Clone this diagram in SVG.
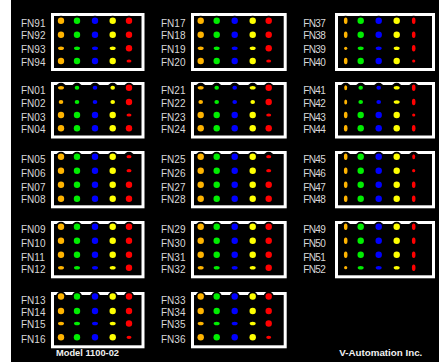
<svg xmlns="http://www.w3.org/2000/svg" xmlns:xlink="http://www.w3.org/1999/xlink" width="441" height="362" viewBox="0 0 441 362">
<style>
.box{fill:#000;stroke:#fff;stroke-width:3}
.lbl{font-family:"Liberation Sans",Arial,sans-serif;font-size:10px;fill:#d8d8d8}
.foot{font-family:"Liberation Sans",Arial,sans-serif;font-size:9.5px;font-weight:bold;fill:#f0f0f0}
.cap{fill:#000}
.o{fill:#ffb400}.g{fill:#00ee00}.b{fill:#0000ff}.y{fill:#ffff00}.r{fill:#ff0000}
</style>
<defs>
<ellipse id="F" rx="3.2" ry="3.2"/>
<ellipse id="H" rx="3" ry="1.8"/>
<ellipse id="S" rx="2.3" ry="2"/>
<ellipse id="N" rx="1.8" ry="3.2"/>
<ellipse id="n" rx="1.5" ry="2.5"/>
<ellipse id="s" rx="1.6" ry="1.6"/>
<ellipse id="R" rx="2.5" ry="1.6"/>
<circle id="C" r="5"/>
</defs>
<rect x="0" y="0" width="441" height="362" fill="#fff"/>
<rect x="11" y="0" width="428" height="362" fill="#000"/>

<!-- Box FN91-94 -->
<g id="box-fn91">
<rect class="box" x="52.5" y="14.5" width="90.5" height="55"/>
<g class="cap"><use href="#C" x="61" y="20.7"/><use href="#C" x="77" y="20.7"/><use href="#C" x="95" y="20.7"/><use href="#C" x="112.7" y="20.7"/><use href="#C" x="129" y="20.7"/></g>
<use href="#F" x="61" y="20.7" class="o"/><use href="#F" x="77" y="20.7" class="g"/><use href="#F" x="95" y="20.7" class="b"/><use href="#F" x="112.7" y="20.7" class="y"/><use href="#F" x="129" y="20.7" class="r"/>
<use href="#F" x="61" y="34.7" class="o"/><use href="#F" x="77" y="34.7" class="g"/><use href="#F" x="95" y="34.7" class="b"/><use href="#F" x="112.7" y="34.7" class="y"/><use href="#F" x="129" y="34.7" class="r"/>
<use href="#H" x="61" y="48.3" class="o"/><use href="#H" x="77" y="48.3" class="g"/><use href="#H" x="95" y="48.3" class="b"/><use href="#H" x="112.7" y="48.3" class="y"/><use href="#F" x="129" y="48.3" class="r"/>
<use href="#F" x="61" y="61" class="o"/><use href="#F" x="77" y="61" class="g"/><use href="#F" x="95" y="61" class="b"/><use href="#F" x="112.7" y="61" class="y"/><use href="#R" x="129" y="61" class="r"/>
<text class="lbl" x="21" y="26.9">FN91</text><text class="lbl" x="21" y="39.3">FN92</text><text class="lbl" x="21" y="52.9">FN93</text><text class="lbl" x="21" y="66.3">FN94</text>
</g>

<!-- Box FN17-20 -->
<g id="box-fn17">
<rect class="box" x="192.5" y="14.5" width="92.7" height="55"/>
<g class="cap"><use href="#C" x="200.7" y="20.7"/><use href="#C" x="216.7" y="20.7"/><use href="#C" x="234.7" y="20.7"/><use href="#C" x="252.7" y="20.7"/><use href="#C" x="268.7" y="20.7"/></g>
<use href="#F" x="200.7" y="20.7" class="o"/><use href="#F" x="216.7" y="20.7" class="g"/><use href="#F" x="234.7" y="20.7" class="b"/><use href="#F" x="252.7" y="20.7" class="y"/><use href="#F" x="268.7" y="20.7" class="r"/>
<use href="#F" x="200.7" y="34.7" class="o"/><use href="#F" x="216.7" y="34.7" class="g"/><use href="#F" x="234.7" y="34.7" class="b"/><use href="#F" x="252.7" y="34.7" class="y"/><use href="#F" x="268.7" y="34.7" class="r"/>
<use href="#H" x="200.7" y="48.3" class="o"/><use href="#H" x="216.7" y="48.3" class="g"/><use href="#H" x="234.7" y="48.3" class="b"/><use href="#H" x="252.7" y="48.3" class="y"/><use href="#F" x="268.7" y="48.3" class="r"/>
<use href="#F" x="200.7" y="61" class="o"/><use href="#F" x="216.7" y="61" class="g"/><use href="#F" x="234.7" y="61" class="b"/><use href="#F" x="252.7" y="61" class="y"/><use href="#R" x="268.7" y="61" class="r"/>
<text class="lbl" x="161" y="26.9">FN17</text><text class="lbl" x="161" y="39.3">FN18</text><text class="lbl" x="161" y="52.9">FN19</text><text class="lbl" x="161" y="66.3">FN20</text>
</g>

<!-- Box FN37-40 -->
<g id="box-fn37">
<rect class="box" x="336.5" y="14.5" width="97" height="55"/>
<g class="cap"><use href="#C" x="345.7" y="20.7"/><use href="#C" x="360.7" y="20.7"/><use href="#C" x="378.7" y="20.7"/><use href="#C" x="396.7" y="20.7"/><use href="#C" x="413.7" y="20.7"/></g>
<use href="#N" x="345.7" y="20.7" class="o"/><use href="#F" x="360.7" y="20.7" class="g"/><use href="#F" x="378.7" y="20.7" class="b"/><use href="#F" x="396.7" y="20.7" class="y"/><use href="#N" x="413.7" y="20.7" class="r"/>
<use href="#N" x="345.7" y="34.7" class="o"/><use href="#F" x="360.7" y="34.7" class="g"/><use href="#F" x="378.7" y="34.7" class="b"/><use href="#F" x="396.7" y="34.7" class="y"/><use href="#N" x="413.7" y="34.7" class="r"/>
<use href="#s" x="345.7" y="48.3" class="o"/><use href="#H" x="360.7" y="48.3" class="g"/><use href="#H" x="378.7" y="48.3" class="b"/><use href="#H" x="396.7" y="48.3" class="y"/><use href="#N" x="413.7" y="48.3" class="r"/>
<use href="#N" x="345.7" y="61" class="o"/><use href="#F" x="360.7" y="61" class="g"/><use href="#F" x="378.7" y="61" class="b"/><use href="#F" x="396.7" y="61" class="y"/><use href="#s" x="413.7" y="61" class="r"/>
<text class="lbl" x="303.3" y="26.9" textLength="22.4">FN37</text><text class="lbl" x="303.3" y="39.3" textLength="22.4">FN38</text><text class="lbl" x="303.3" y="52.9" textLength="22.4">FN39</text><text class="lbl" x="303.3" y="66.3" textLength="22.4">FN40</text>
</g>

<!-- Box FN01-04 -->
<g id="box-fn01">
<rect class="box" x="52.5" y="83.5" width="90.5" height="53.5"/>
<g class="cap"><use href="#C" x="61" y="87.7"/><use href="#C" x="77" y="87.7"/><use href="#C" x="95" y="87.7"/><use href="#C" x="112.7" y="87.7"/><use href="#C" x="129" y="87.7"/></g>
<use href="#H" x="61" y="87.7" class="o"/><use href="#S" x="77" y="87.7" class="g"/><use href="#S" x="95" y="87.7" class="b"/><use href="#S" x="112.7" y="87.7" class="y"/><use href="#F" x="129" y="87.7" class="r"/>
<use href="#S" x="61" y="102" class="o"/><use href="#S" x="77" y="102" class="g"/><use href="#S" x="95" y="102" class="b"/><use href="#S" x="112.7" y="102" class="y"/><use href="#F" x="129" y="102" class="r"/>
<use href="#F" x="61" y="115" class="o"/><use href="#F" x="77" y="115" class="g"/><use href="#F" x="95" y="115" class="b"/><use href="#F" x="112.7" y="115" class="y"/><use href="#R" x="129" y="115" class="r"/>
<use href="#F" x="61" y="128.3" class="o"/><use href="#F" x="77" y="128.3" class="g"/><use href="#F" x="95" y="128.3" class="b"/><use href="#F" x="112.7" y="128.3" class="y"/><use href="#F" x="129" y="128.3" class="r"/>
<text class="lbl" x="21" y="94.3">FN01</text><text class="lbl" x="21" y="106.9">FN02</text><text class="lbl" x="21" y="120.9">FN03</text><text class="lbl" x="21" y="132.6">FN04</text>
</g>

<!-- Box FN21-24 -->
<g id="box-fn21">
<rect class="box" x="192.5" y="83.5" width="92.7" height="53.5"/>
<g class="cap"><use href="#C" x="200.7" y="87.7"/><use href="#C" x="216.7" y="87.7"/><use href="#C" x="234.7" y="87.7"/><use href="#C" x="252.7" y="87.7"/><use href="#C" x="268.7" y="87.7"/></g>
<use href="#H" x="200.7" y="87.7" class="o"/><use href="#S" x="216.7" y="87.7" class="g"/><use href="#S" x="234.7" y="87.7" class="b"/><use href="#H" x="252.7" y="87.7" class="y"/><use href="#F" x="268.7" y="87.7" class="r"/>
<use href="#S" x="200.7" y="102" class="o"/><use href="#S" x="216.7" y="102" class="g"/><use href="#S" x="234.7" y="102" class="b"/><use href="#S" x="252.7" y="102" class="y"/><use href="#F" x="268.7" y="102" class="r"/>
<use href="#F" x="200.7" y="115" class="o"/><use href="#F" x="216.7" y="115" class="g"/><use href="#F" x="234.7" y="115" class="b"/><use href="#F" x="252.7" y="115" class="y"/><use href="#R" x="268.7" y="115" class="r"/>
<use href="#F" x="200.7" y="128.3" class="o"/><use href="#F" x="216.7" y="128.3" class="g"/><use href="#F" x="234.7" y="128.3" class="b"/><use href="#F" x="252.7" y="128.3" class="y"/><use href="#F" x="268.7" y="128.3" class="r"/>
<text class="lbl" x="161" y="94.3">FN21</text><text class="lbl" x="161" y="106.9">FN22</text><text class="lbl" x="161" y="120.9">FN23</text><text class="lbl" x="161" y="132.6">FN24</text>
</g>

<!-- Box FN41-44 -->
<g id="box-fn41">
<rect class="box" x="336.5" y="83.5" width="97" height="53.5"/>
<g class="cap"><use href="#C" x="345.7" y="87.7"/><use href="#C" x="360.7" y="87.7"/><use href="#C" x="378.7" y="87.7"/><use href="#C" x="396.7" y="87.7"/><use href="#C" x="413.7" y="87.7"/></g>
<use href="#n" x="345.7" y="87.7" class="o"/><use href="#S" x="360.7" y="87.7" class="g"/><use href="#S" x="378.7" y="87.7" class="b"/><use href="#H" x="396.7" y="87.7" class="y"/><use href="#N" x="413.7" y="87.7" class="r"/>
<use href="#n" x="345.7" y="102" class="o"/><use href="#S" x="360.7" y="102" class="g"/><use href="#S" x="378.7" y="102" class="b"/><use href="#H" x="396.7" y="102" class="y"/><use href="#N" x="413.7" y="102" class="r"/>
<use href="#N" x="345.7" y="115" class="o"/><use href="#F" x="360.7" y="115" class="g"/><use href="#F" x="378.7" y="115" class="b"/><use href="#F" x="396.7" y="115" class="y"/><use href="#s" x="413.7" y="115" class="r"/>
<use href="#N" x="345.7" y="128.3" class="o"/><use href="#F" x="360.7" y="128.3" class="g"/><use href="#F" x="378.7" y="128.3" class="b"/><use href="#F" x="396.7" y="128.3" class="y"/><use href="#N" x="413.7" y="128.3" class="r"/>
<text class="lbl" x="303.3" y="94.3" textLength="22.4">FN41</text><text class="lbl" x="303.3" y="106.9" textLength="22.4">FN42</text><text class="lbl" x="303.3" y="120.9" textLength="22.4">FN43</text><text class="lbl" x="303.3" y="132.6" textLength="22.4">FN44</text>
</g>

<!-- Box FN05-08 -->
<g id="box-fn05">
<rect class="box" x="52.5" y="152.5" width="90.5" height="54.3"/>
<g class="cap"><use href="#C" x="61" y="156.7"/><use href="#C" x="77" y="156.7"/><use href="#C" x="95" y="156.7"/><use href="#C" x="112.7" y="156.7"/><use href="#C" x="129" y="156.7"/></g>
<use href="#F" x="61" y="156.7" class="o"/><use href="#F" x="77" y="156.7" class="g"/><use href="#F" x="95" y="156.7" class="b"/><use href="#F" x="112.7" y="156.7" class="y"/><use href="#R" x="129" y="156.7" class="r"/>
<use href="#F" x="61" y="170.7" class="o"/><use href="#F" x="77" y="170.7" class="g"/><use href="#F" x="95" y="170.7" class="b"/><use href="#F" x="112.7" y="170.7" class="y"/><use href="#R" x="129" y="170.7" class="r"/>
<use href="#F" x="61" y="184.7" class="o"/><use href="#F" x="77" y="184.7" class="g"/><use href="#F" x="95" y="184.7" class="b"/><use href="#F" x="112.7" y="184.7" class="y"/><use href="#F" x="129" y="184.7" class="r"/>
<use href="#F" x="61" y="198.7" class="o"/><use href="#F" x="77" y="198.7" class="g"/><use href="#F" x="95" y="198.7" class="b"/><use href="#F" x="112.7" y="198.7" class="y"/><use href="#F" x="129" y="198.7" class="r"/>
<text class="lbl" x="21" y="162.9">FN05</text><text class="lbl" x="21" y="176.9">FN06</text><text class="lbl" x="21" y="190.9">FN07</text><text class="lbl" x="21" y="202.6">FN08</text>
</g>

<!-- Box FN25-28 -->
<g id="box-fn25">
<rect class="box" x="192.5" y="152.5" width="92.7" height="54.3"/>
<g class="cap"><use href="#C" x="200.7" y="156.7"/><use href="#C" x="216.7" y="156.7"/><use href="#C" x="234.7" y="156.7"/><use href="#C" x="252.7" y="156.7"/><use href="#C" x="268.7" y="156.7"/></g>
<use href="#F" x="200.7" y="156.7" class="o"/><use href="#F" x="216.7" y="156.7" class="g"/><use href="#F" x="234.7" y="156.7" class="b"/><use href="#F" x="252.7" y="156.7" class="y"/><use href="#R" x="268.7" y="156.7" class="r"/>
<use href="#F" x="200.7" y="170.7" class="o"/><use href="#F" x="216.7" y="170.7" class="g"/><use href="#F" x="234.7" y="170.7" class="b"/><use href="#F" x="252.7" y="170.7" class="y"/><use href="#R" x="268.7" y="170.7" class="r"/>
<use href="#F" x="200.7" y="184.7" class="o"/><use href="#F" x="216.7" y="184.7" class="g"/><use href="#F" x="234.7" y="184.7" class="b"/><use href="#F" x="252.7" y="184.7" class="y"/><use href="#F" x="268.7" y="184.7" class="r"/>
<use href="#F" x="200.7" y="198.7" class="o"/><use href="#F" x="216.7" y="198.7" class="g"/><use href="#F" x="234.7" y="198.7" class="b"/><use href="#F" x="252.7" y="198.7" class="y"/><use href="#F" x="268.7" y="198.7" class="r"/>
<text class="lbl" x="161" y="162.9">FN25</text><text class="lbl" x="161" y="176.9">FN26</text><text class="lbl" x="161" y="190.9">FN27</text><text class="lbl" x="161" y="202.6">FN28</text>
</g>

<!-- Box FN45-48 -->
<g id="box-fn45">
<rect class="box" x="336.5" y="152.5" width="97" height="54.3"/>
<g class="cap"><use href="#C" x="345.7" y="156.7"/><use href="#C" x="360.7" y="156.7"/><use href="#C" x="378.7" y="156.7"/><use href="#C" x="396.7" y="156.7"/><use href="#C" x="413.7" y="156.7"/></g>
<use href="#N" x="345.7" y="156.7" class="o"/><use href="#F" x="360.7" y="156.7" class="g"/><use href="#F" x="378.7" y="156.7" class="b"/><use href="#F" x="396.7" y="156.7" class="y"/><use href="#n" x="413.7" y="156.7" class="r"/>
<use href="#N" x="345.7" y="170.7" class="o"/><use href="#F" x="360.7" y="170.7" class="g"/><use href="#F" x="378.7" y="170.7" class="b"/><use href="#F" x="396.7" y="170.7" class="y"/><use href="#s" x="413.7" y="170.7" class="r"/>
<use href="#N" x="345.7" y="184.7" class="o"/><use href="#F" x="360.7" y="184.7" class="g"/><use href="#F" x="378.7" y="184.7" class="b"/><use href="#F" x="396.7" y="184.7" class="y"/><use href="#N" x="413.7" y="184.7" class="r"/>
<use href="#N" x="345.7" y="198.7" class="o"/><use href="#F" x="360.7" y="198.7" class="g"/><use href="#F" x="378.7" y="198.7" class="b"/><use href="#F" x="396.7" y="198.7" class="y"/><use href="#N" x="413.7" y="198.7" class="r"/>
<text class="lbl" x="303.3" y="162.9" textLength="22.4">FN45</text><text class="lbl" x="303.3" y="176.9" textLength="22.4">FN46</text><text class="lbl" x="303.3" y="190.9" textLength="22.4">FN47</text><text class="lbl" x="303.3" y="202.6" textLength="22.4">FN48</text>
</g>

<!-- Box FN09-12 -->
<g id="box-fn09">
<rect class="box" x="52.5" y="222.5" width="90.5" height="54.3"/>
<g class="cap"><use href="#C" x="61" y="226.7"/><use href="#C" x="77" y="226.7"/><use href="#C" x="95" y="226.7"/><use href="#C" x="112.7" y="226.7"/><use href="#C" x="129" y="226.7"/></g>
<use href="#F" x="61" y="226.7" class="o"/><use href="#F" x="77" y="226.7" class="g"/><use href="#F" x="95" y="226.7" class="b"/><use href="#F" x="112.7" y="226.7" class="y"/><use href="#F" x="129" y="226.7" class="r"/>
<use href="#F" x="61" y="240.7" class="o"/><use href="#F" x="77" y="240.7" class="g"/><use href="#F" x="95" y="240.7" class="b"/><use href="#F" x="112.7" y="240.7" class="y"/><use href="#F" x="129" y="240.7" class="r"/>
<use href="#F" x="61" y="254.7" class="o"/><use href="#F" x="77" y="254.7" class="g"/><use href="#F" x="95" y="254.7" class="b"/><use href="#F" x="112.7" y="254.7" class="y"/><use href="#F" x="129" y="254.7" class="r"/>
<use href="#H" x="61" y="267.7" class="o"/><use href="#H" x="77" y="267.7" class="g"/><use href="#H" x="95" y="267.7" class="b"/><use href="#H" x="112.7" y="267.7" class="y"/><use href="#F" x="129" y="267.7" class="r"/>
<text class="lbl" x="21" y="232.9">FN09</text><text class="lbl" x="21" y="246.9">FN10</text><text class="lbl" x="21" y="260.9">FN11</text><text class="lbl" x="21" y="272.6">FN12</text>
</g>

<!-- Box FN29-32 -->
<g id="box-fn29">
<rect class="box" x="192.5" y="222.5" width="92.7" height="54.3"/>
<g class="cap"><use href="#C" x="200.7" y="226.7"/><use href="#C" x="216.7" y="226.7"/><use href="#C" x="234.7" y="226.7"/><use href="#C" x="252.7" y="226.7"/><use href="#C" x="268.7" y="226.7"/></g>
<use href="#F" x="200.7" y="226.7" class="o"/><use href="#F" x="216.7" y="226.7" class="g"/><use href="#F" x="234.7" y="226.7" class="b"/><use href="#F" x="252.7" y="226.7" class="y"/><use href="#F" x="268.7" y="226.7" class="r"/>
<use href="#F" x="200.7" y="240.7" class="o"/><use href="#F" x="216.7" y="240.7" class="g"/><use href="#F" x="234.7" y="240.7" class="b"/><use href="#F" x="252.7" y="240.7" class="y"/><use href="#F" x="268.7" y="240.7" class="r"/>
<use href="#F" x="200.7" y="254.7" class="o"/><use href="#F" x="216.7" y="254.7" class="g"/><use href="#F" x="234.7" y="254.7" class="b"/><use href="#F" x="252.7" y="254.7" class="y"/><use href="#F" x="268.7" y="254.7" class="r"/>
<use href="#H" x="200.7" y="267.7" class="o"/><use href="#H" x="216.7" y="267.7" class="g"/><use href="#H" x="234.7" y="267.7" class="b"/><use href="#H" x="252.7" y="267.7" class="y"/><use href="#F" x="268.7" y="267.7" class="r"/>
<text class="lbl" x="161" y="232.9">FN29</text><text class="lbl" x="161" y="246.9">FN30</text><text class="lbl" x="161" y="260.9">FN31</text><text class="lbl" x="161" y="272.6">FN32</text>
</g>

<!-- Box FN49-52 -->
<g id="box-fn49">
<rect class="box" x="336.5" y="222.5" width="97" height="54.3"/>
<g class="cap"><use href="#C" x="345.7" y="226.7"/><use href="#C" x="360.7" y="226.7"/><use href="#C" x="378.7" y="226.7"/><use href="#C" x="396.7" y="226.7"/><use href="#C" x="413.7" y="226.7"/></g>
<use href="#N" x="345.7" y="226.7" class="o"/><use href="#F" x="360.7" y="226.7" class="g"/><use href="#F" x="378.7" y="226.7" class="b"/><use href="#F" x="396.7" y="226.7" class="y"/><use href="#N" x="413.7" y="226.7" class="r"/>
<use href="#N" x="345.7" y="240.7" class="o"/><use href="#F" x="360.7" y="240.7" class="g"/><use href="#F" x="378.7" y="240.7" class="b"/><use href="#F" x="396.7" y="240.7" class="y"/><use href="#N" x="413.7" y="240.7" class="r"/>
<use href="#N" x="345.7" y="254.7" class="o"/><use href="#F" x="360.7" y="254.7" class="g"/><use href="#F" x="378.7" y="254.7" class="b"/><use href="#F" x="396.7" y="254.7" class="y"/><use href="#N" x="413.7" y="254.7" class="r"/>
<use href="#s" x="345.7" y="267.7" class="o"/><use href="#H" x="360.7" y="267.7" class="g"/><use href="#H" x="378.7" y="267.7" class="b"/><use href="#H" x="396.7" y="267.7" class="y"/><use href="#N" x="413.7" y="267.7" class="r"/>
<text class="lbl" x="303.3" y="232.9" textLength="22.4">FN49</text><text class="lbl" x="303.3" y="246.9" textLength="22.4">FN50</text><text class="lbl" x="303.3" y="260.9" textLength="22.4">FN51</text><text class="lbl" x="303.3" y="272.6" textLength="22.4">FN52</text>
</g>

<!-- Box FN13-16 -->
<g id="box-fn13">
<rect class="box" x="52.5" y="293.5" width="90.5" height="53.3"/>
<g class="cap"><use href="#C" x="61" y="296.5"/><use href="#C" x="77" y="296.5"/><use href="#C" x="95" y="296.5"/><use href="#C" x="112.7" y="296.5"/><use href="#C" x="129" y="296.5"/></g>
<use href="#F" x="61" y="296.5" class="o"/><use href="#F" x="77" y="296.5" class="g"/><use href="#F" x="95" y="296.5" class="b"/><use href="#F" x="112.7" y="296.5" class="y"/><use href="#F" x="129" y="296.5" class="r"/>
<use href="#F" x="61" y="311" class="o"/><use href="#F" x="77" y="311" class="g"/><use href="#F" x="95" y="311" class="b"/><use href="#F" x="112.7" y="311" class="y"/><use href="#F" x="129" y="311" class="r"/>
<use href="#H" x="61" y="323.5" class="o"/><use href="#H" x="77" y="323.5" class="g"/><use href="#H" x="95" y="323.5" class="b"/><use href="#H" x="112.7" y="323.5" class="y"/><use href="#F" x="129" y="323.5" class="r"/>
<use href="#F" x="61" y="337.3" class="o"/><use href="#F" x="77" y="337.3" class="g"/><use href="#F" x="95" y="337.3" class="b"/><use href="#F" x="112.7" y="337.3" class="y"/><use href="#R" x="129" y="337.3" class="r"/>
<text class="lbl" x="21" y="303.9">FN13</text><text class="lbl" x="21" y="316.3">FN14</text><text class="lbl" x="21" y="327.9">FN15</text><text class="lbl" x="21" y="342.6">FN16</text>
</g>

<!-- Box FN33-36 -->
<g id="box-fn33">
<rect class="box" x="192.5" y="293.5" width="92.7" height="53.3"/>
<g class="cap"><use href="#C" x="200.7" y="296.5"/><use href="#C" x="216.7" y="296.5"/><use href="#C" x="234.7" y="296.5"/><use href="#C" x="252.7" y="296.5"/><use href="#C" x="268.7" y="296.5"/></g>
<use href="#F" x="200.7" y="296.5" class="o"/><use href="#F" x="216.7" y="296.5" class="g"/><use href="#F" x="234.7" y="296.5" class="b"/><use href="#F" x="252.7" y="296.5" class="y"/><use href="#F" x="268.7" y="296.5" class="r"/>
<use href="#F" x="200.7" y="311" class="o"/><use href="#F" x="216.7" y="311" class="g"/><use href="#F" x="234.7" y="311" class="b"/><use href="#F" x="252.7" y="311" class="y"/><use href="#F" x="268.7" y="311" class="r"/>
<use href="#H" x="200.7" y="323.5" class="o"/><use href="#H" x="216.7" y="323.5" class="g"/><use href="#H" x="234.7" y="323.5" class="b"/><use href="#H" x="252.7" y="323.5" class="y"/><use href="#F" x="268.7" y="323.5" class="r"/>
<use href="#F" x="200.7" y="337.3" class="o"/><use href="#F" x="216.7" y="337.3" class="g"/><use href="#F" x="234.7" y="337.3" class="b"/><use href="#F" x="252.7" y="337.3" class="y"/><use href="#R" x="268.7" y="337.3" class="r"/>
<text class="lbl" x="161" y="303.9">FN33</text><text class="lbl" x="161" y="316.3">FN34</text><text class="lbl" x="161" y="327.9">FN35</text><text class="lbl" x="161" y="342.6">FN36</text>
</g>

<g id="connectors"/>

<text class="foot" x="56" y="356" textLength="63" lengthAdjust="spacingAndGlyphs">Model 1100-02</text>
<text class="foot" x="339.3" y="356" textLength="83" lengthAdjust="spacingAndGlyphs">V-Automation Inc.</text>
</svg>
